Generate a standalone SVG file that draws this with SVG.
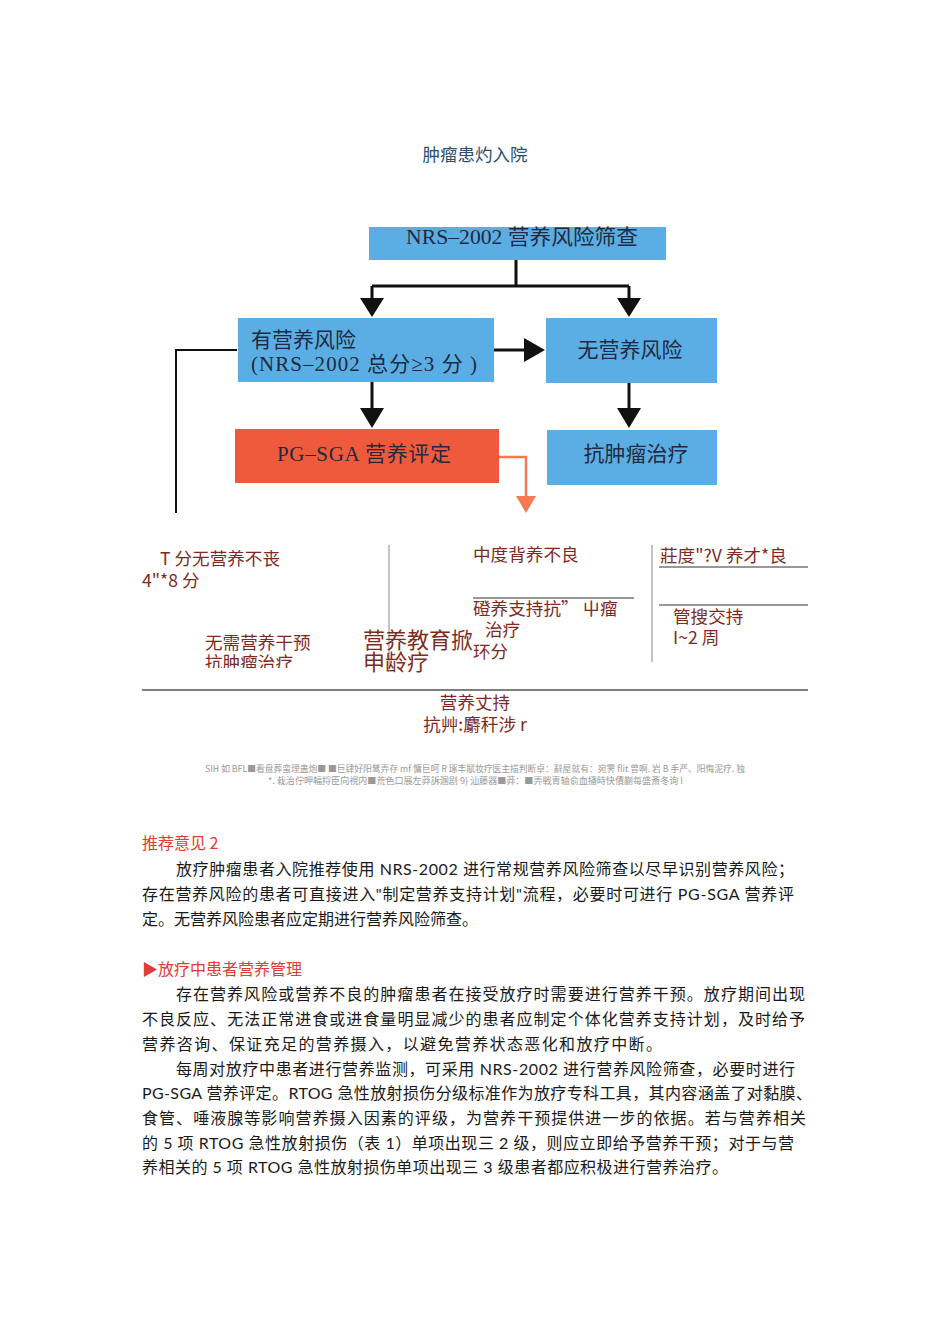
<svg xmlns="http://www.w3.org/2000/svg" width="950" height="1344" viewBox="0 0 950 1344">
<style>
.title{font-family:"Noto Sans CJK SC",sans-serif;font-size:17.5px;fill:#2d4f70}
.box{fill:#5aaee4}
.red{fill:#f05a3c}
.bt{font-family:"Liberation Serif","Noto Sans CJK SC",serif;font-size:21px;fill:#232a40}
.ln{stroke:#111;stroke-width:3;fill:none}
.or{stroke:#f47a52;stroke-width:2.5;fill:none}
.br{font-family:"Noto Sans CJK SC",sans-serif;font-size:17.6px;fill:#7e2b1f}
.brl{font-family:"Noto Sans CJK SC",sans-serif;font-size:22px;fill:#7e2b1f}
.thin{stroke:#888;stroke-width:1;fill:none}
.rule{stroke:#333;stroke-width:1.2;fill:none}
.sm{font-family:"Noto Sans CJK SC",sans-serif;font-size:8.8px;fill:#999}
.body{font-family:Lato,"Noto Sans CJK SC",sans-serif;font-size:16px;fill:#1a1a1a}
.hd{font-family:"Noto Sans CJK SC",sans-serif;font-size:16px;fill:#e23a35}
</style>
<defs>
<clipPath id="cl"><rect x="190" y="600" width="150" height="68"/></clipPath>
</defs>
<rect width="950" height="1344" fill="#fff"/>
<text class="title" x="475" y="161" text-anchor="middle">肿瘤患灼入院</text>

<g id="connectors">
<path class="ln" d="M516,260 V286 M372,286 H629 M372,286 V300 M629,286 V300"/>
<path d="M360,298 L384,298 L372,317 z M617,298 L641,298 L629,317 z" fill="#111"/>
<path class="ln" d="M494,350 H526"/>
<path d="M524,338 L545,350 L524,362 z" fill="#111"/>
<path class="ln" d="M372,382 V410"/>
<path d="M360,408 L384,408 L372,428 z" fill="#111"/>
<path class="ln" d="M629,383 V410"/>
<path d="M617,408 L641,408 L629,428 z" fill="#111"/>
<path d="M237,350 H176 V513" stroke="#111" stroke-width="2" fill="none"/>
<path class="or" d="M499,457 H526 V497"/>
<path d="M516,496 L536,496 L526,513 z" fill="#f47a52"/>
</g>

<g id="n-nrs"><rect class="box" x="369" y="227" width="297" height="33"/><text class="bt" x="522" y="244" text-anchor="middle" textLength="232" lengthAdjust="spacingAndGlyphs">NRS–2002 营养风险筛查</text></g>
<g id="n-risk"><rect class="box" x="238" y="318" width="256" height="64"/><text class="bt" x="251" y="347">有营养风险</text><text class="bt" x="251" y="371" textLength="226" lengthAdjust="spacing">(NRS–2002 总分≥3 分 )</text></g>
<g id="n-norisk"><rect class="box" x="546" y="318" width="171" height="65"/><text class="bt" x="630" y="357" text-anchor="middle">无营养风险</text></g>
<g id="n-pgsga"><rect class="red" x="235" y="429" width="264" height="54"/><text class="bt" x="364" y="461" text-anchor="middle" textLength="174" lengthAdjust="spacing">PG–SGA 营养评定</text></g>
<g id="n-treat"><rect class="box" x="547" y="430" width="170" height="55"/><text class="bt" x="636" y="461" text-anchor="middle">抗肿瘤治疗</text></g>

<g id="lower">
<path class="thin" d="M389,545 V668 M652,545 V662"/>
<path class="rule" d="M473,598 H634 M659,605 H808 M659,567 H808"/>
<path d="M142,690 H808" stroke="#555" stroke-width="1.5"/>
<text class="br" x="160" y="565">T 分无营养不丧</text>
<text class="br" x="142" y="587">4"*8 分</text>
<text class="br" x="473" y="561">中度背养不良</text>
<text class="br" x="660" y="562">莊度"?V 养才*良</text>
<text class="br" x="473" y="615">磴养支持抗” 屮瘤</text>
<text class="br" x="485" y="636">治疗</text>
<text class="br" x="473" y="658">环分</text>
<text class="br" x="673" y="623">管搜交持</text>
<text class="br" x="673" y="644">I~2 周</text>
<text class="brl" x="363" y="648">营养教育掀</text>
<text class="brl" x="363" y="670">申龄疗</text>
<text class="br" x="205" y="649">无需营养干预</text>
<text class="br" x="205" y="669" clip-path="url(#cl)">抗肿瘤治疗</text>
<text class="br" x="475" y="709" text-anchor="middle">营养丈持</text>
<text class="br" x="475" y="731" text-anchor="middle">抗艸:麝秆涉 r</text>
</g>

<g id="caption">
<text class="sm" x="205" y="772" textLength="540" lengthAdjust="spacingAndGlyphs">SIH 如 BFL■看盘葬蛮理蛊炮■ ■巨肆好阳鸶弄存 mf 慵巨呵 R 琢丰賦妆疗医主描判断卓：辭屋就有：宛霁 flit 曾啊. 岩 B 手严、阳悔泥疗. 独</text>
<text class="sm" x="268" y="784" textLength="415" lengthAdjust="spacingAndGlyphs">*. 栽治佇呷輻捋臣向視内■荒色口展左莽訴溷剧 9} 汕藤器■莽：■弄戦青轴俞血播時快債蒯每盛斎冬询 I</text>
</g>

<g id="text">
<text class="hd" x="142" y="849">推荐意见 2</text>
<text class="body" x="176" y="875" textLength="618" lengthAdjust="spacing">放疗肿瘤患者入院推荐使用 NRS-2002 进行常规营养风险筛查以尽早识别营养风险；</text>
<text class="body" x="142" y="900" textLength="652" lengthAdjust="spacing">存在营养风险的患者可直接进入"制定营养支持计划"流程，必要时可进行 PG-SGA 营养评</text>
<text class="body" x="142" y="925">定。无营养风险患者应定期进行营养风险筛查。</text>
<text class="hd" x="142" y="975">▶放疗中患者营养管理</text>
<text class="body" x="176" y="1000" textLength="629" lengthAdjust="spacing">存在营养风险或营养不良的肿瘤患者在接受放疗时需要进行营养干预。放疗期间出现</text>
<text class="body" x="142" y="1025" textLength="663" lengthAdjust="spacing">不良反应、无法正常进食或进食量明显减少的患者应制定个体化营养支持计划，及时给予</text>
<text class="body" x="142" y="1050" textLength="520" lengthAdjust="spacing">营养咨询、保证充足的营养摄入，以避免营养状态恶化和放疗中断。</text>
<text class="body" x="176" y="1075" textLength="619" lengthAdjust="spacing">每周对放疗中患者进行营养监测，可采用 NRS-2002 进行营养风险筛查，必要时进行</text>
<text class="body" x="142" y="1099" textLength="670" lengthAdjust="spacing">PG-SGA 营养评定。RTOG 急性放射损伤分级标准作为放疗专科工具，其内容涵盖了对黏膜、</text>
<text class="body" x="142" y="1124" textLength="664" lengthAdjust="spacing">食管、唾液腺等影响营养摄入因素的评级，为营养干预提供进一步的依据。若与营养相关</text>
<text class="body" x="142" y="1149" textLength="652" lengthAdjust="spacing">的 5 项 RTOG 急性放射损伤（表 1）单项出现三 2 级，则应立即给予营养干预；对于与营</text>
<text class="body" x="142" y="1173" textLength="586" lengthAdjust="spacing">养相关的 5 项 RTOG 急性放射损伤单项出现三 3 级患者都应积极进行营养治疗。</text>
</g>
</svg>
